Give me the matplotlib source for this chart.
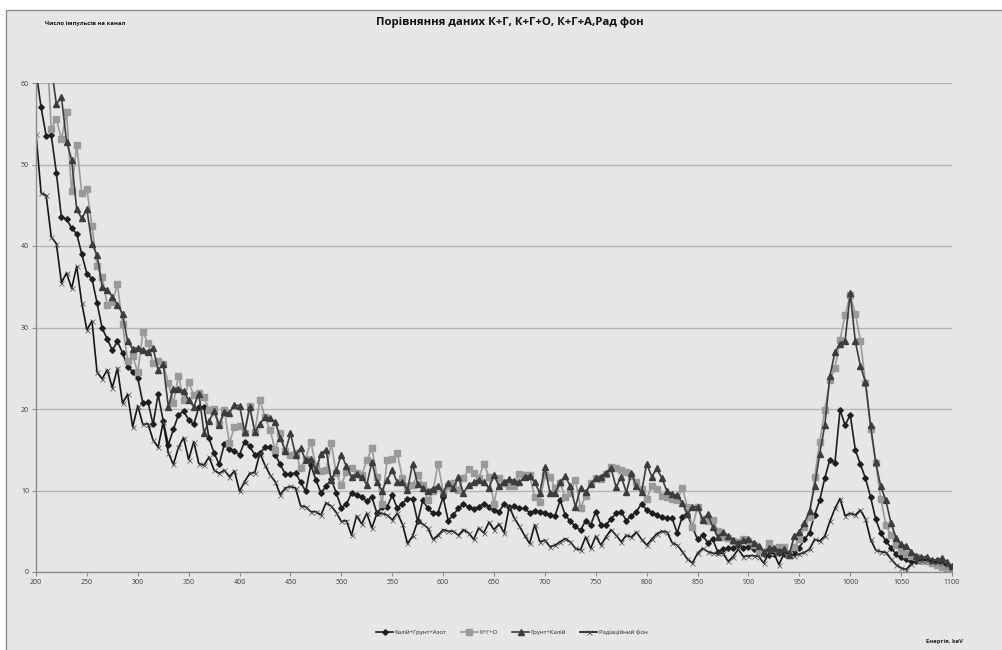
import numpy as np
import matplotlib
matplotlib.use("Agg")
import matplotlib.pyplot as plt
from matplotlib.patches import Rectangle

plt.rcParams['font.family'] = ['Open Sans', 'DejaVu Sans']

title = "Порівняння даних К+Г, К+Г+О, К+Г+А,Рад фон"
y_title = "Число імпульсів на канал"
x_title = "Енергія, keV"
series_names = ["Калій+Грунт+Азот", "К+Г+О", "Грунт+Калій", "Радіаційний фон"]

energy_kev = np.arange(200, 1101, 5)

kalii_grunt_azot = [
    61.5, 57.0, 53.5, 53.6, 49.0, 43.5, 43.3, 42.2, 41.5, 39.0,
    36.6, 36.0, 33.0, 29.9, 28.6, 27.2, 28.3, 26.9, 25.2, 24.6,
    23.8, 20.7, 20.9, 18.1, 21.8, 18.5, 15.6, 17.5, 19.3, 19.7,
    18.7, 18.1, 20.2, 20.2, 16.4, 14.6, 13.2, 15.7, 15.1, 14.8,
    14.4, 16.0, 15.4, 14.4, 14.6, 15.3, 15.3, 14.4, 13.2, 12.0,
    12.0, 12.2, 11.0, 9.9, 13.1, 11.3, 9.7, 10.5, 11.4, 9.7,
    7.9, 8.3, 9.7, 9.4, 9.2, 8.7, 9.2, 7.2, 8.0, 8.0,
    9.4, 7.8, 8.4, 9.0, 9.0, 6.2, 8.8, 7.8, 7.2, 7.3,
    9.2, 6.3, 7.0, 7.8, 8.3, 8.0, 7.7, 8.0, 8.4, 8.0,
    7.6, 7.4, 8.4, 8.0, 8.1, 7.8, 7.8, 7.3, 7.5, 7.4,
    7.3, 7.0, 6.9, 8.8, 7.0, 6.2, 5.6, 5.1, 6.3, 5.8,
    7.4, 5.8, 5.8, 6.5, 7.2, 7.4, 6.3, 6.9, 7.4, 8.4,
    7.6, 7.3, 7.0, 6.7, 6.6, 6.6, 4.8, 6.8, 7.1, 5.5,
    4.0, 4.5, 3.6, 4.0, 2.4, 2.8, 2.9, 3.0, 3.3, 3.0,
    3.1, 2.8, 2.5, 2.2, 2.1, 2.2, 2.3, 2.2, 2.3, 2.5,
    3.0, 4.0, 4.8, 7.0, 8.8, 11.5, 13.8, 13.4, 19.9, 18.0,
    19.3, 15.0, 13.2, 11.5, 9.2, 6.5, 4.8, 3.8, 3.0, 2.2,
    1.8, 1.6, 1.4, 1.3, 1.3, 1.3, 1.1, 1.2, 1.0, 0.8,
    0.5,
]

k_g_o = [
    80.0, 74.0, 66.0, 54.4, 55.6, 53.1, 56.4, 46.7, 52.4, 46.5,
    47.0, 42.5, 37.5, 36.2, 32.8, 33.1, 35.3, 30.4, 25.9, 26.5,
    24.5, 29.4, 28.1, 25.6, 25.9, 25.5, 23.2, 20.7, 24.1, 21.1,
    23.3, 21.7, 22.0, 21.5, 19.9, 20.0, 18.2, 19.9, 15.8, 17.8,
    17.9, 17.0, 20.4, 17.2, 21.1, 19.0, 17.4, 15.0, 17.0, 14.8,
    14.4, 14.6, 12.8, 13.9, 16.0, 13.0, 12.4, 12.5, 15.8, 12.1,
    10.7, 12.3, 12.8, 12.2, 11.9, 13.7, 15.2, 11.7, 8.4, 13.7,
    13.9, 14.6, 11.5, 10.6, 10.7, 11.9, 10.7, 8.8, 9.9, 13.3,
    9.9, 10.5, 10.9, 10.1, 11.5, 12.6, 12.1, 11.5, 13.3, 11.7,
    8.4, 11.5, 10.9, 10.5, 10.5, 12.0, 11.9, 11.9, 9.2, 8.6,
    11.9, 11.7, 10.3, 10.9, 9.2, 9.7, 11.3, 7.9, 9.3, 10.9,
    11.5, 11.4, 12.0, 12.9, 12.7, 12.5, 12.3, 11.8, 11.0, 10.2,
    9.0, 10.5, 10.2, 9.3, 9.2, 9.0, 8.8, 10.3, 8.0, 5.5,
    8.0, 6.5, 6.2, 6.4, 5.0, 4.3, 4.2, 3.8, 3.7, 4.0,
    3.8, 3.3, 2.6, 2.4, 3.6, 2.5, 3.1, 3.1, 2.1, 3.1,
    4.0, 5.5, 6.8, 11.6, 15.9, 19.9, 23.5, 25.0, 28.5, 31.5,
    34.0, 31.7, 28.4, 23.2, 17.6, 13.4, 9.0, 5.8, 4.5, 3.3,
    2.6, 2.2, 2.0, 1.8, 1.5, 1.3, 1.1, 0.9, 0.6, 0.5,
    0.4,
]

grunt_kalii = [
    82.0, 76.0, 70.0, 62.0, 57.4, 58.3, 52.8, 50.6, 44.5, 43.4,
    44.5, 40.3, 38.9, 35.0, 34.6, 33.8, 32.8, 31.7, 28.3, 27.4,
    27.5, 27.3, 27.0, 27.5, 24.8, 25.5, 20.3, 22.5, 22.5, 22.2,
    21.1, 20.3, 21.9, 17.1, 18.5, 19.7, 18.0, 19.6, 19.5, 20.5,
    20.4, 17.2, 20.2, 17.2, 18.2, 19.0, 18.9, 18.4, 16.5, 14.8,
    17.0, 14.4, 15.2, 13.7, 13.9, 12.5, 14.5, 15.0, 11.3, 12.5,
    14.4, 13.0, 11.7, 12.0, 11.7, 10.7, 13.5, 11.0, 10.0, 11.3,
    12.5, 11.0, 11.0, 10.1, 13.3, 10.8, 10.3, 9.9, 10.2, 10.6,
    9.7, 10.9, 10.3, 11.6, 9.7, 10.7, 11.0, 11.3, 11.0, 10.3,
    11.9, 10.5, 11.1, 11.4, 11.2, 11.0, 11.7, 11.8, 11.0, 9.7,
    12.9, 9.7, 9.7, 11.0, 11.8, 10.5, 8.0, 10.3, 9.8, 10.8,
    11.5, 11.7, 12.2, 12.7, 10.4, 11.7, 9.8, 12.1, 10.5, 9.8,
    13.3, 11.7, 12.7, 11.5, 9.9, 9.6, 9.4, 8.5, 7.1, 8.0,
    8.0, 6.4, 7.1, 5.5, 4.3, 4.9, 4.4, 3.9, 3.6, 3.9,
    4.0, 3.6, 3.2, 2.5, 2.9, 3.0, 2.6, 2.8, 2.1, 4.4,
    4.9, 6.0, 7.5, 10.5, 14.5, 18.0, 24.0, 27.0, 28.0, 28.4,
    34.2, 28.3, 25.3, 23.3, 18.0, 13.5, 10.5, 8.8, 6.0, 4.2,
    3.4, 3.2, 2.5, 2.0, 1.8, 1.9, 1.5, 1.5, 1.7, 1.2,
    0.7,
]

rad_fon = [
    53.7, 46.5, 46.2, 41.1, 40.3, 35.5, 36.7, 34.8, 37.5, 33.0,
    29.7, 30.8, 24.5, 23.7, 24.8, 22.6, 25.0, 20.7, 21.8, 17.8,
    20.4, 18.1, 18.2, 16.2, 15.3, 18.4, 14.6, 13.2, 15.3, 16.5,
    13.8, 16.0, 13.3, 13.1, 14.1, 12.5, 12.1, 12.5, 11.7, 12.4,
    9.9, 11.1, 12.1, 12.2, 14.6, 13.1, 11.9, 11.1, 9.5, 10.3,
    10.5, 10.3, 8.1, 8.0, 7.4, 7.4, 7.0, 8.5, 8.1, 7.3,
    6.2, 6.3, 4.5, 6.9, 5.9, 7.2, 5.4, 7.2, 7.2, 7.0,
    6.4, 7.2, 5.9, 3.5, 4.4, 6.2, 5.9, 5.4, 4.0, 4.5,
    5.2, 5.0, 5.0, 4.5, 5.2, 4.8, 4.0, 5.4, 4.8, 6.1,
    5.2, 5.9, 4.8, 8.0, 6.6, 5.6, 4.5, 3.5, 5.8, 3.7,
    3.9, 3.1, 3.3, 3.7, 4.1, 3.7, 2.9, 2.7, 4.3, 2.9,
    4.4, 3.3, 4.3, 5.2, 4.5, 3.7, 4.5, 4.3, 4.9, 4.0,
    3.3, 4.0, 4.7, 5.0, 4.9, 3.6, 3.3, 2.5, 1.6, 1.1,
    2.3, 2.9, 2.5, 2.3, 2.3, 2.3, 1.3, 1.9, 2.8, 1.9,
    2.0, 2.0, 1.9, 1.1, 2.3, 2.3, 0.9, 2.3, 2.3, 2.0,
    2.2, 2.4, 2.8, 4.0, 3.8, 4.4, 6.2, 7.8, 9.0, 6.9,
    7.2, 7.0, 7.6, 6.5, 4.0, 2.7, 2.5, 2.4, 1.6, 0.9,
    0.5, 0.3, 1.0, 1.3, 1.5, 1.5, 1.3, 1.2, 1.1, 0.8,
    0.5,
]

x_ticks = list(range(200, 1101, 50))
y_ticks = [0, 10, 20, 30, 40, 50, 60]

W, H = 1003, 650
fig = plt.figure(figsize=(W / 100, H / 100), dpi=100, facecolor='white')

# chart area (drawn beneath everything)
bg = Rectangle((6 / W, -0.01), 1.0, 1 - 10 / H + 0.01,
               transform=fig.transFigure, facecolor='#e6e6e6',
               edgecolor='#8c8c8c', lw=1.0, zorder=-10)
fig.patches.append(bg)

left, right, top, bottom = 36, 952, 83, 572
ax = fig.add_axes([left / W, 1 - bottom / H, (right - left) / W, (bottom - top) / H])
ax.set_facecolor('none')
ax.set_zorder(5)

styles = [
    dict(color='#1e1e1e', marker='D', ms=2.8, mfc='#1e1e1e', mec='#1e1e1e'),
    dict(color='#9a9a9a', marker='s', ms=3.7, mfc='#9a9a9a', mec='#9a9a9a'),
    dict(color='#3c3c3c', marker='^', ms=3.8, mfc='#3c3c3c', mec='#3c3c3c'),
    dict(color='#141414', marker='x', ms=3.6, mfc='#141414', mec='#4a4a4a', mew=0.5),
]
data = [kalii_grunt_azot, k_g_o, grunt_kalii, rad_fon]
for name, vals, st in zip(series_names, data, styles):
    assert len(vals) == len(energy_kev), (name, len(vals))
    ax.plot(energy_kev, vals, lw=1.2, label=name, **st)

ax.set_xlim(200, 1100)
ax.set_ylim(0, 60)
ax.set_xticks(x_ticks)
ax.set_yticks(y_ticks)
ax.grid(axis='y', color='#b4b4b4', lw=1.0)
ax.set_axisbelow(True)
for s in ['top', 'right']:
    ax.spines[s].set_visible(False)
for s in ['left', 'bottom']:
    ax.spines[s].set_color('#8c8c8c')
    ax.spines[s].set_linewidth(1.0)
ax.tick_params(axis='both', direction='out', length=3, width=0.8, color='#8c8c8c',
               labelsize=5, labelcolor='#3a3a3a', pad=2)

fig.text(510 / W, 1 - 22 / H, title, ha='center', va='center', fontsize=8.2,
         fontweight='bold', color='#111111')
fig.text(45 / W, 1 - 24 / H, y_title, ha='left', va='center', fontsize=4.2,
         fontweight='bold', color='#111111')
fig.text(945 / W, 1 - 641 / H, x_title, ha='center', va='center', fontsize=4.2,
         fontweight='bold', color='#222222')

leg = fig.legend(loc='center', bbox_to_anchor=(512 / W, 1 - 632 / H), ncol=4,
                 frameon=False, fontsize=4.3, handlelength=2.8, columnspacing=2.4,
                 handletextpad=0.3)
for t in leg.get_texts():
    t.set_color('#222222')

fig.savefig('out.png', dpi=100, facecolor='white')
